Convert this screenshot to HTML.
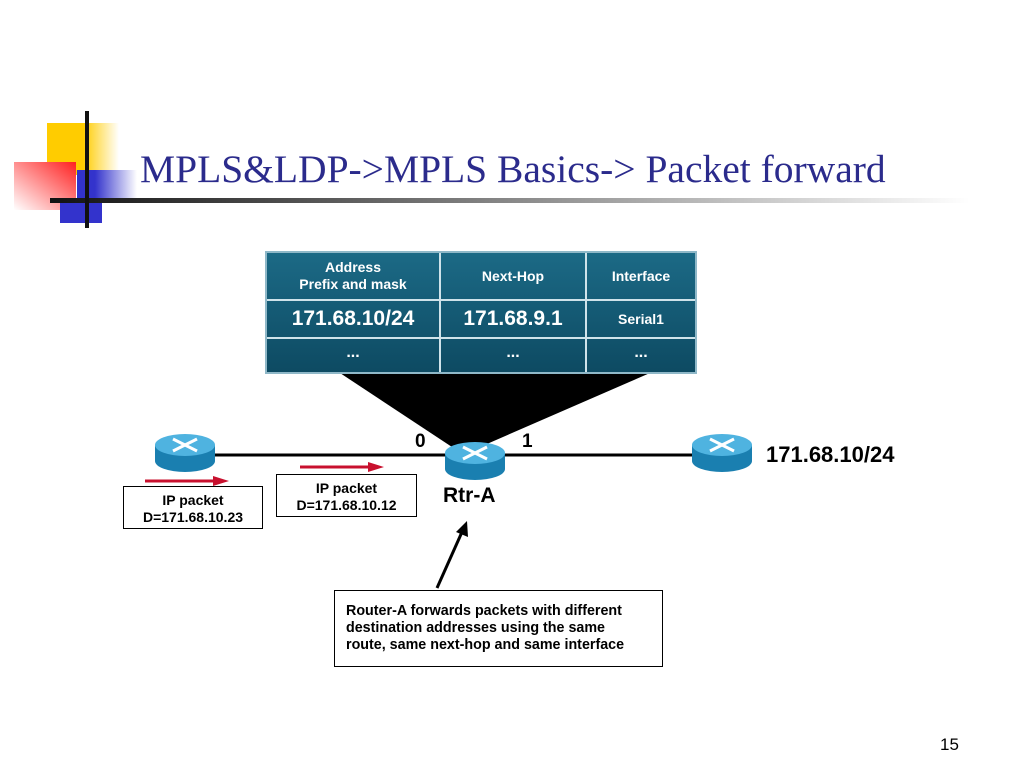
<!DOCTYPE html>
<html><head><style>
body{margin:0;width:1024px;height:768px;background:#fff;position:relative;overflow:hidden;font-family:"Liberation Sans",sans-serif}
.t{position:absolute;left:140px;top:146px;font-family:"Liberation Serif",serif;font-size:39.5px;color:#2b2b8c;white-space:nowrap}
.box{position:absolute;border:1px solid #000;background:#fff;font-weight:bold;font-size:14px;text-align:center;line-height:17px}
.lbl{position:absolute;font-weight:bold;white-space:nowrap}
</style></head><body>
<svg width="1024" height="768" style="position:absolute;left:0;top:0">
<defs>
<linearGradient id="y" x1="0" x2="1"><stop offset="0.5" stop-color="#ffcc00"/><stop offset="1" stop-color="#fff"/></linearGradient>
<linearGradient id="r" x1="1" x2="0" y1="0" y2="1"><stop offset="0" stop-color="#ff2020"/><stop offset="1" stop-color="#fff"/></linearGradient>
<linearGradient id="b" x1="0" x2="1"><stop offset="0.3" stop-color="#3333cc"/><stop offset="1" stop-color="#fff"/></linearGradient>
<linearGradient id="l" x1="0" x2="1"><stop offset="0" stop-color="#111"/><stop offset="1" stop-color="#fff"/></linearGradient>
<linearGradient id="tb" x1="0" y1="0" x2="0" y2="1"><stop offset="0" stop-color="#1c6a86"/><stop offset="1" stop-color="#0d4a62"/></linearGradient>
<g id="rt">
<path d="M0,12 L0,28 A30,11 0 0 0 60,28 L60,12 Z" fill="#1a7fb0"/>
<ellipse cx="30" cy="12" rx="30" ry="11" fill="#4fb3e0"/>
<g stroke="#fff" stroke-width="3"><line x1="18" y1="6" x2="42" y2="18"/><line x1="42" y1="6" x2="18" y2="18"/></g>
</g>
</defs>
<rect x="47" y="123" width="72" height="52" fill="url(#y)"/>
<rect x="14" y="162" width="62" height="48" fill="url(#r)"/>
<rect x="77" y="170" width="60" height="30" fill="url(#b)"/>
<rect x="60" y="200" width="42" height="23" fill="#3333cc"/>
<rect x="50" y="198" width="920" height="5" fill="url(#l)"/>
<rect x="85" y="111" width="4" height="117" fill="#111"/>
<polygon points="340,373 650,373 480,447 452,447" fill="#000"/>
<rect x="266" y="252" width="430" height="121" fill="url(#tb)" stroke="#8fb8c8" stroke-width="2"/>
<g stroke="#cfe3ea" stroke-width="2"><line x1="440" y1="253" x2="440" y2="372"/><line x1="586" y1="253" x2="586" y2="372"/><line x1="267" y1="300" x2="695" y2="300"/><line x1="267" y1="338" x2="695" y2="338"/></g>
<line x1="200" y1="455" x2="720" y2="455" stroke="#000" stroke-width="3"/>
<use href="#rt" x="155" y="433"/>
<use href="#rt" x="445" y="441"/>
<use href="#rt" x="692" y="433"/>
<line x1="145" y1="481" x2="215" y2="481" stroke="#c8102e" stroke-width="3"/><polygon points="213,476 229,481 213,486" fill="#c8102e"/>
<line x1="300" y1="467" x2="370" y2="467" stroke="#c8102e" stroke-width="3"/><polygon points="368,462 384,467 368,472" fill="#c8102e"/>
<line x1="437" y1="588" x2="462" y2="532" stroke="#000" stroke-width="3"/><polygon points="467,521 468,537 456,532" fill="#000"/>
</svg>
<div class="t">MPLS&amp;LDP-&gt;MPLS Basics-&gt; Packet forward</div>
<div class="lbl" style="left:266px;top:259px;width:174px;text-align:center;color:#fff;font-size:14px;line-height:17px">Address<br>Prefix and mask</div>
<div class="lbl" style="left:440px;top:268px;width:146px;text-align:center;color:#fff;font-size:14px">Next-Hop</div>
<div class="lbl" style="left:586px;top:268px;width:110px;text-align:center;color:#fff;font-size:14px">Interface</div>
<div class="lbl" style="left:266px;top:307px;width:174px;text-align:center;color:#fff;font-size:21px">171.68.10/24</div>
<div class="lbl" style="left:440px;top:307px;width:146px;text-align:center;color:#fff;font-size:21px">171.68.9.1</div>
<div class="lbl" style="left:586px;top:311px;width:110px;text-align:center;color:#fff;font-size:14px">Serial1</div>
<div class="lbl" style="left:266px;top:344px;width:174px;text-align:center;color:#fff;font-size:16px">...</div>
<div class="lbl" style="left:440px;top:344px;width:146px;text-align:center;color:#fff;font-size:16px">...</div>
<div class="lbl" style="left:586px;top:344px;width:110px;text-align:center;color:#fff;font-size:16px">...</div>
<div class="lbl" style="left:415px;top:431px;font-size:19px">0</div>
<div class="lbl" style="left:522px;top:431px;font-size:19px">1</div>
<div class="lbl" style="left:443px;top:484px;font-size:21px">Rtr-A</div>
<div class="lbl" style="left:766px;top:442px;font-size:22px">171.68.10/24</div>
<div class="box" style="left:123px;top:486px;width:140px;height:43px;padding-top:5px;box-sizing:border-box">IP packet<br>D=171.68.10.23</div>
<div class="box" style="left:276px;top:474px;width:141px;height:43px;padding-top:5px;box-sizing:border-box">IP packet<br>D=171.68.10.12</div>
<div class="box" style="left:334px;top:590px;width:329px;height:77px;padding:12px 10px 0 11px;box-sizing:border-box;text-align:left;font-size:14.3px">Router-A forwards packets with different destination addresses using the same<br>route, same next-hop and same interface</div>
<div style="position:absolute;left:940px;top:735px;font-size:17px">15</div>
</body></html>
